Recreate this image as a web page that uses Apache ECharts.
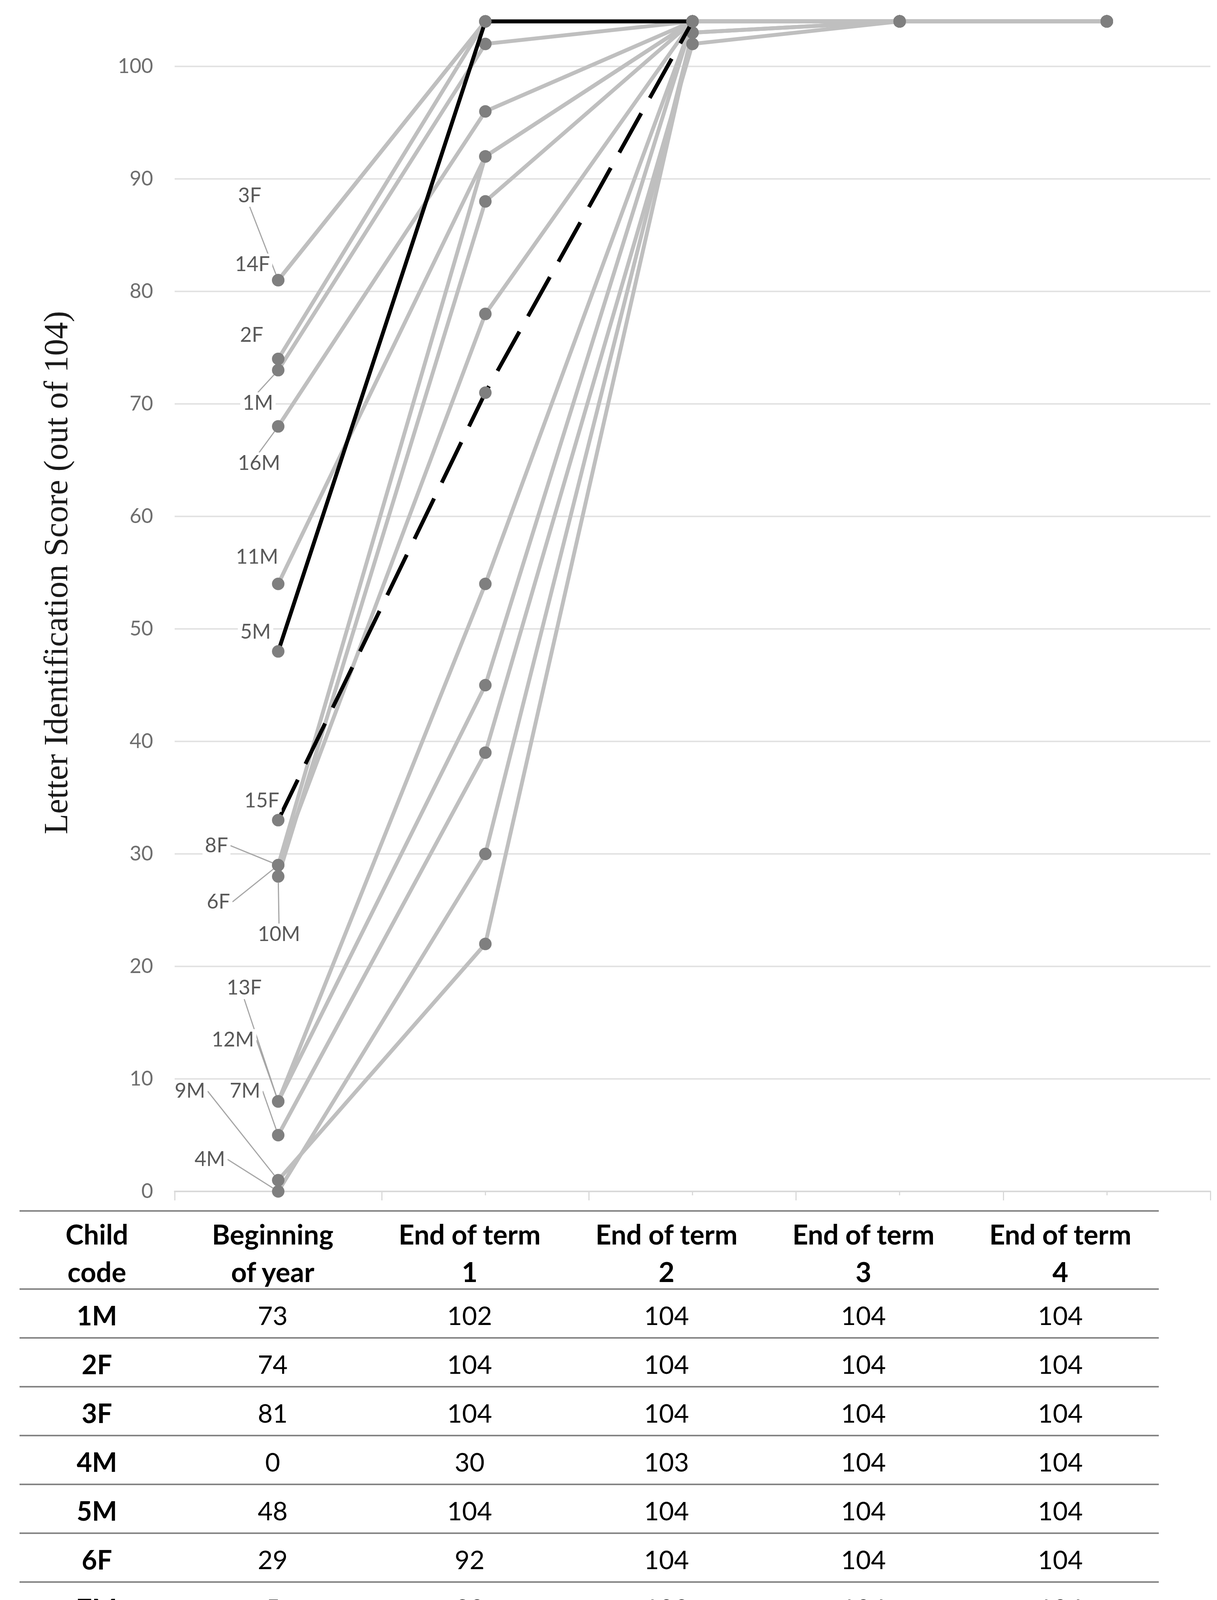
<!DOCTYPE html>
<html><head><meta charset="utf-8">
<script src="https://cdn.jsdelivr.net/npm/echarts@6/dist/echarts.min.js"></script>
<style>
html,body{margin:0;padding:0;background:#fff;}
#chart{position:absolute;left:0;top:0;width:3115px;height:3100px;}
#table{position:absolute;left:50px;top:3098px;width:2916px;font-family:Lato,sans-serif;color:#000;}
.row{display:flex;box-sizing:border-box;border-top:4px solid #858585;height:125px;align-items:center;padding-top:8px;}
.hdr{height:200px;font-weight:bold;line-height:96px;font-size:70px;padding-top:14px;}
.last{border-bottom:4px solid #858585;height:129px;}
.cell{text-align:center;font-size:66px;}
.code{font-weight:bold;font-size:68px;}
.hdr .cell{font-size:70px;}
</style></head>
<body><div id="chart"></div><div id="table"></div>
<script>
// ---- data ----
const categories = ['Beginning of year', 'End of term 1', 'End of term 2', 'End of term 3', 'End of term 4'];
const tableHeaders = [['Child', 'code'], ['Beginning', 'of year'], ['End of term', '1'], ['End of term', '2'], ['End of term', '3'], ['End of term', '4']];
const childCodes = ['1M', '2F', '3F', '4M', '5M', '6F', '7M', '8F', '9M', '10M', '11M', '12M', '13F', '14F', '15F', '16M'];
const beginningOfYear = [73, 74, 81, 0, 48, 29, 5, 29, 1, 28, 54, 8, 8, 81, 33, 68];
const endTerm1 = [102, 104, 104, 30, 104, 92, 39, 78, 22, 88, 92, 54, 45, 104, 71, 96];
const endTerm2 = [104, 104, 104, 103, 104, 104, 102, 104, 103, 104, 104, 104, 104, 104, 104, 104];
const endTerm3 = [104, 104, 104, 104, 104, 104, 104, 104, 104, 104, 104, 104, 104, 104, 104, 104];
const endTerm4 = [104, 104, 104, 104, 104, 104, 104, 104, 104, 104, 104, 104, 104, 104, 104, 104];
const yTicks = {min: 0, max: 110, interval: 10};
const highlighted = {'5M': 'solid', '15F': 'dashed'};   // black lines up to End of term 2

// ---- layout (label offsets from point, and whether a leader line is drawn) ----
const labelOffsets = {
  '1M': [-52, 85, true], '2F': [-68, -61, false], '3F': [-73, -216, true], '4M': [-175, -82, true],
  '5M': [-58, -49, false], '6F': [-153, 94, true], '7M': [-85, -113, true], '8F': [-158, -50, true],
  '9M': [-226, -228, true], '10M': [2, 149, true], '11M': [-54, -69, false], '12M': [-116, -157, true],
  '13F': [-87, -290, true], '14F': [-66, -40, false], '15F': [-42, -49, false], '16M': [-49, 95, true]
};
const GRAY = '#bfbfbf';
const W = 3115;

const chart = echarts.init(document.getElementById('chart'), null, {renderer: 'canvas'});

function buildSeries(splitX) {
  return childCodes.map((code, i) => {
    const vals = [beginningOfYear[i], endTerm1[i], endTerm2[i], endTerm3[i], endTerm4[i]];
    const hl = highlighted[code];
    const off = labelOffsets[code];
    let color = GRAY;
    if (hl) {
      color = splitX == null ? '#000' : new echarts.graphic.LinearGradient(0, 0, W, 0, [
        {offset: 0, color: '#000'}, {offset: splitX / W, color: '#000'},
        {offset: splitX / W, color: GRAY}, {offset: 1, color: GRAY}
      ], true);
    }
    return {
      type: 'line',
      name: code,
      z: hl ? 3 : 2,
      symbol: 'circle',
      symbolSize: 32,
      itemStyle: {color: '#7f7f7f'},
      lineStyle: {
        color: color,
        width: hl ? 10 : 10,
        type: hl === 'dashed' ? [115, 45] : 'solid'
      },
      label: {show: false},
      labelLayout: {dx: off[0], dy: off[1]},
      labelLine: {show: false, lineStyle: {color: '#a6a6a6', width: 3}},
      emphasis: {disabled: true},
      data: vals.map((v, j) => j === 0 ? {
        value: v,
        label: {
          show: true, position: 'inside', formatter: code,
          color: '#595959', fontSize: 52, fontFamily: 'Lato',
          backgroundColor: '#fff', padding: [2, 6]
        },
        labelLine: {show: off[2], lineStyle: {color: '#a6a6a6', width: 3}}
      } : v)
    };
  });
}

chart.setOption({
  animation: false,
  backgroundColor: '#fff',
  grid: {left: 447, right: 17, top: -118, bottom: 50, outerBoundsMode: 'none', containLabel: false},
  xAxis: [{
    type: 'category',
    data: categories,
    boundaryGap: true,
    axisLine: {show: true, lineStyle: {color: '#d9d9d9', width: 4}},
    axisTick: {show: true, length: 23, lineStyle: {color: '#d9d9d9', width: 3}},
    axisLabel: {show: false},
    splitLine: {show: false}
  }, {
    type: 'category',
    data: categories,
    position: 'bottom',
    boundaryGap: true,
    axisLine: {show: false},
    axisTick: {show: true, alignWithLabel: true, length: 10, lineStyle: {color: '#d9d9d9', width: 3}},
    axisLabel: {show: false},
    splitLine: {show: false}
  }],
  yAxis: {
    type: 'value',
    min: yTicks.min, max: yTicks.max, interval: yTicks.interval,
    name: 'Letter Identification Score (out of 104)',
    nameLocation: 'middle',
    nameGap: 255,
    nameTextStyle: {fontFamily: 'Liberation Serif', fontSize: 86, color: '#1a1a1a'},
    axisLine: {show: false},
    axisTick: {show: false},
    axisLabel: {color: '#6e6e6e', fontSize: 52, fontFamily: 'Lato', margin: 55},
    splitLine: {show: true, lineStyle: {color: '#e3e3e3', width: 4}}
  },
  series: buildSeries(null)
});

// black only up to "End of term 2": split position taken from the axis scale
const splitPx = chart.convertToPixel({xAxisIndex: 0}, categories[2]);
chart.setOption({series: buildSeries(splitPx)});

// ---- table ----
const colWidths = [396, 504, 504, 504, 504, 504];
const tbl = document.getElementById('table');
let html = '<div class="row hdr">';
tableHeaders.forEach((h, c) => {
  html += '<div class="cell" style="width:' + colWidths[c] + 'px">' + h.join('<br>') + '</div>';
});
html += '</div>';
childCodes.forEach((code, i) => {
  const vals = [beginningOfYear[i], endTerm1[i], endTerm2[i], endTerm3[i], endTerm4[i]];
  html += '<div class="row' + (i === childCodes.length - 1 ? ' last' : '') + '">';
  html += '<div class="cell code" style="width:' + colWidths[0] + 'px">' + code + '</div>';
  vals.forEach((v, c) => {
    html += '<div class="cell" style="width:' + colWidths[c + 1] + 'px">' + v + '</div>';
  });
  html += '</div>';
});
tbl.innerHTML = html;
</script>
</body></html>
